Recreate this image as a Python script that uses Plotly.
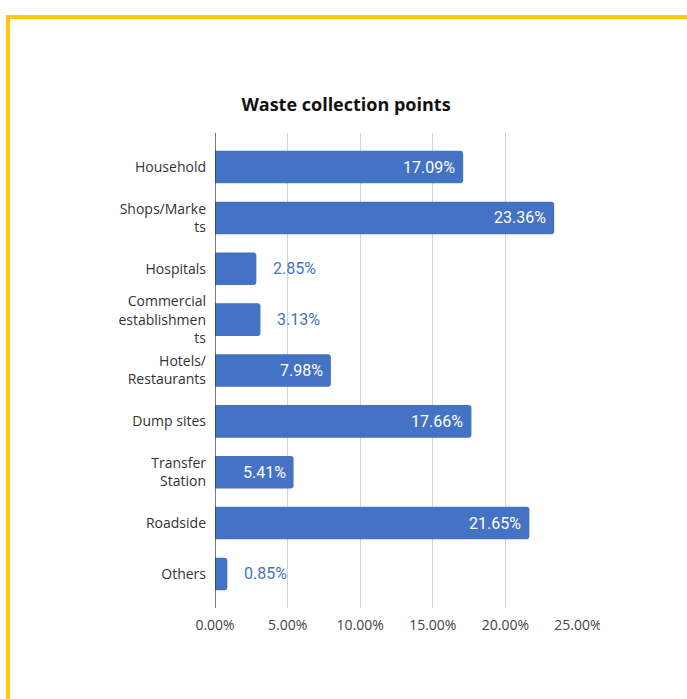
import plotly.graph_objects as go

categories = [
    "Household",
    "Shops/Marke<br>ts",
    "Hospitals",
    "Commercial<br>establishmen<br>ts",
    "Hotels/<br>Restaurants",
    "Dump sites",
    "Transfer<br>Station",
    "Roadside",
    "Others",
]
shares = [17.09, 23.36, 2.85, 3.13, 7.98, 17.66, 5.41, 21.65, 0.85]
tick_values = [0, 5, 10, 15, 20, 25]
tick_labels = ["0.00%", "5.00%", "10.00%", "15.00%", "20.00%", "25.00%"]

BAR_BLUE = "#4472C4"
FRAME_YELLOW = "#FFC90A"

W, H = 687, 699
L, R, T, B = 215, 109, 133, 91
PW, PH = W - L - R, H - T - B


def px_x(px):
    return (px - L) / PW


def px_y(py):
    return 1 - (py - T) / PH


fig = go.Figure(
    go.Bar(
        x=shares,
        y=categories,
        orientation="h",
        marker=dict(color=BAR_BLUE, line=dict(width=0), cornerradius=3),
        hoverinfo="skip",
    )
)

annotations = []
for cat, val in zip(categories, shares):
    inside = val >= 5
    annotations.append(
        dict(
            x=val,
            y=cat,
            xref="x",
            yref="y",
            text=f"{val:.2f}%",
            showarrow=False,
            xanchor="right" if inside else "left",
            xshift=-6 if inside else 15,
            font=dict(family="Roboto", size=16, color="white" if inside else BAR_BLUE),
        )
    )

n = len(categories)
shapes = [
    # yellow frame: top and left edges
    dict(type="rect", xref="paper", yref="paper",
         x0=px_x(6), x1=px_x(W + 5), y0=px_y(19), y1=px_y(15),
         fillcolor=FRAME_YELLOW, line=dict(width=0), layer="above"),
    dict(type="rect", xref="paper", yref="paper",
         x0=px_x(6), x1=px_x(10), y0=px_y(H + 5), y1=px_y(15),
         fillcolor=FRAME_YELLOW, line=dict(width=0), layer="above"),
    # right edge of the chart area trims the last tick label
    dict(type="rect", xref="paper", yref="paper",
         x0=px_x(600), x1=px_x(W + 5), y0=px_y(645), y1=px_y(612),
         fillcolor="white", line=dict(width=0), layer="above"),
    # value axis baseline
    dict(type="line", xref="x", yref="paper", x0=0, x1=0, y0=0, y1=1,
         line=dict(color="#333333", width=1.3), layer="above"),
]

fig.update_layout(
    width=W,
    height=H,
    margin=dict(l=L, r=R, t=T, b=B, pad=0),
    paper_bgcolor="white",
    plot_bgcolor="white",
    bargap=0.36,
    showlegend=False,
    title=dict(
        text="<b>Waste collection points</b>",
        x=346 / W,
        xanchor="center",
        y=1 - 105 / H,
        yanchor="middle",
        font=dict(family="Open Sans", size=18, color="#111111"),
    ),
    xaxis=dict(
        range=[0, 25],
        tickvals=tick_values,
        ticktext=tick_labels,
        showgrid=True,
        gridcolor="#D3D3D3",
        gridwidth=1,
        zeroline=False,
        showline=False,
        ticks="",
        ticklabelstandoff=7,
        tickfont=dict(family="Open Sans", size=14, color="#444444"),
        fixedrange=True,
    ),
    yaxis=dict(
        categoryorder="array",
        categoryarray=categories,
        range=[n - 0.5 + 0.17, -0.67],
        showgrid=False,
        zeroline=False,
        showline=False,
        ticks="",
        ticklabelstandoff=8,
        tickfont=dict(family="Open Sans", size=14, color="#333333"),
        fixedrange=True,
    ),
    annotations=annotations,
    shapes=shapes,
)

fig.write_html("out.html")
